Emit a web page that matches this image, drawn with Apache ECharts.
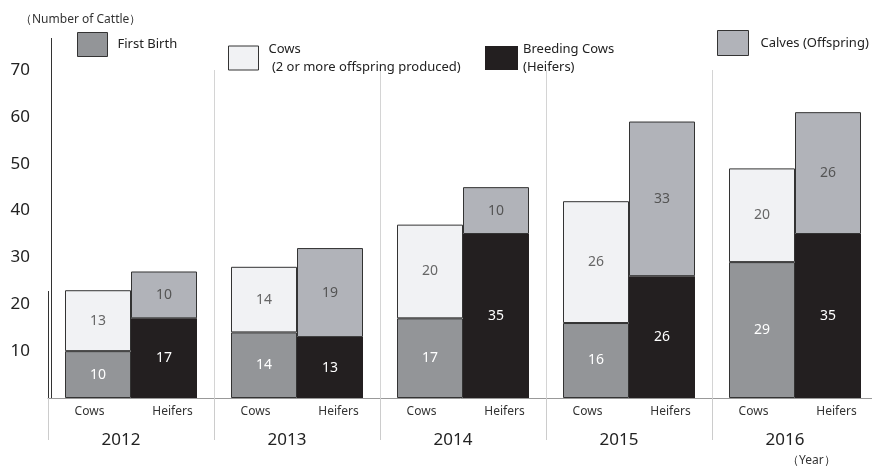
<!DOCTYPE html>
<html>
<head>
<meta charset="utf-8">
<script src="https://cdn.jsdelivr.net/npm/echarts@6/dist/echarts.min.js"></script>
<style>html,body{margin:0;padding:0;background:#fff;}#c{width:872px;height:468px;}</style>
</head>
<body>
<div id="c"></div>
<script>
const years = ['2012', '2013', '2014', '2015', '2016'];
const subLabels = ['Cows', 'Heifers', 'Cows', 'Heifers', 'Cows', 'Heifers', 'Cows', 'Heifers', 'Cows', 'Heifers'];
const firstBirth = [10, 14, 17, 16, 29];
const cowsMulti = [13, 14, 20, 26, 20];
const breedingCows = [17, 13, 35, 26, 35];
const calves = [10, 19, 10, 33, 26];
const yMax = 70;
const yStep = 10;

const FONT = 'Noto Sans';
const chart = echarts.init(document.getElementById('c'));

function barSeries(name, data, stack, color, labelColor, border) {
  return {
    name: name, type: 'bar', stack: stack, data: data,
    xAxisIndex: 0, barWidth: 66, barGap: '0%',
    itemStyle: { color: color, borderColor: border ? '#333' : color, borderWidth: border ? 1 : 0 },
    label: { show: true, position: 'inside', fontSize: 14, color: labelColor, fontFamily: FONT },
    emphasis: { disabled: true }
  };
}

function legendItem(name, left, top, w, h, formatter, padLeft, padTop, border) {
  return {
    data: [name], left: left, top: top, itemWidth: w, itemHeight: h, padding: 0,
    icon: 'rect', selectedMode: false, formatter: formatter,
    itemStyle: border ? { borderColor: '#333', borderWidth: 1 } : { borderWidth: 0 },
    textStyle: { fontSize: 13, color: '#222', fontFamily: FONT, lineHeight: 18, padding: [padTop, 0, 0, padLeft] }
  };
}

chart.setOption({
  animation: false,
  title: [
    { text: '（Number of Cattle）', left: 20, top: 14, padding: 0, textStyle: { fontSize: 12, fontWeight: 'normal', color: '#333', fontFamily: FONT } },
    { text: '（Year）', left: 787, top: 455, padding: 0, textStyle: { fontSize: 12, fontWeight: 'normal', color: '#333', fontFamily: FONT } }
  ],
  legend: [
    legendItem('First Birth', 77, 32, 30, 24, '{name}', 5, 0, true),
    legendItem('Cows', 228, 33, 30, 24, 'Cows\n (2 or more offspring produced)', 5, 14, true),
    legendItem('Breeding Cows', 485, 33, 33, 24, 'Breeding Cows\n(Heifers)', 0, 14, false),
    legendItem('Calves (Offspring)', 717, 30, 31, 25, '{name}', 7, 0, true)
  ],
  grid: { left: 48, width: 830, top: 70, height: 328, outerBoundsMode: 'none', containLabel: false },
  xAxis: [
    {
      type: 'category', data: years, position: 'bottom',
      axisLine: { show: true, lineStyle: { color: '#999', width: 1 } },
      axisTick: { show: true, interval: 0, length: 42, lineStyle: { color: '#ccc' } },
      axisLabel: { margin: 34, fontSize: 17, color: '#222', fontFamily: FONT, padding: [0, 20, 0, 0] },
      splitLine: { show: true, interval: function (index) { return index !== 0; }, lineStyle: { color: '#d4d4d4' } }
    },
    {
      type: 'category', data: subLabels, position: 'bottom', offset: 0,
      axisLine: { show: false }, axisTick: { show: false }, splitLine: { show: false },
      axisLabel: { margin: 8, fontSize: 12, color: '#333', fontFamily: FONT, interval: 0 }
    }
  ],
  yAxis: {
    type: 'value', min: 0, max: yMax, interval: yStep, offset: -3,
    axisLine: { show: true, lineStyle: { color: '#333' } },
    axisTick: { show: false }, splitLine: { show: false },
    axisLabel: { margin: 21, fontSize: 17, color: '#222', fontFamily: FONT, padding: [0, 0, 8, 0],
      formatter: function (v) { return v === 0 ? '' : String(v); } }
  },
  graphic: [
    { type: 'line', shape: { x1: 51.5, y1: 38, x2: 51.5, y2: 70 }, style: { stroke: '#333', lineWidth: 1 } },
    { type: 'line', shape: { x1: 48.5, y1: 291, x2: 48.5, y2: 398 }, style: { stroke: '#333', lineWidth: 1 } }
  ],
  series: [
    barSeries('First Birth', firstBirth, 'cows', '#939598', '#ffffff', true),
    barSeries('Cows', cowsMulti, 'cows', '#f1f2f4', '#666666', true),
    barSeries('Breeding Cows', breedingCows, 'heifers', '#231f20', '#ffffff', false),
    barSeries('Calves (Offspring)', calves, 'heifers', '#b1b3b9', '#555555', true)
  ]
});
</script>
</body>
</html>
